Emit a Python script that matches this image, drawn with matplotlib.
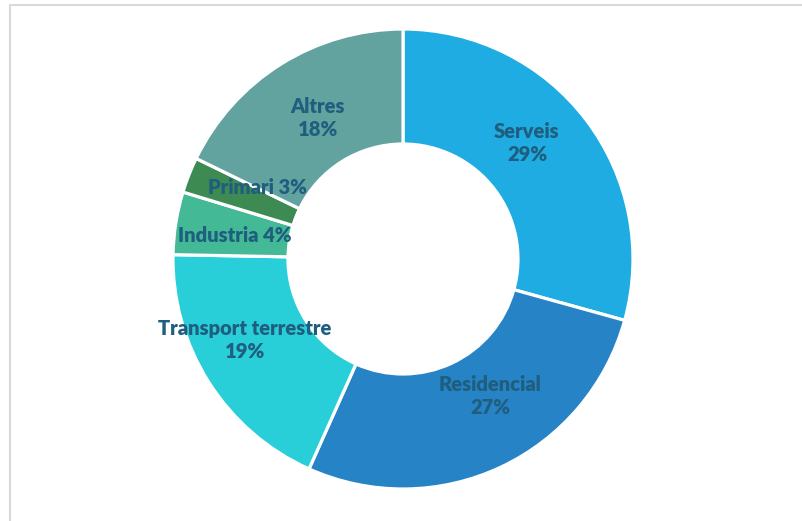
import numpy as np
import matplotlib
matplotlib.use('Agg')
import matplotlib.pyplot as plt
from matplotlib.patches import Rectangle

labels = ['Serveis', 'Residencial', 'Transport terrestre', 'Industria', 'Primari', 'Altres']
# wedge sizes as drawn in the picture
values = [29.3, 27.4, 18.6, 4.4, 2.5, 17.8]
label_text = ['Serveis\n29%', 'Residencial\n27%', 'Transport terrestre\n19%',
              'Industria 4%', 'Primari 3%', 'Altres\n18%']
colors = ['#1EACE3', '#2683C6', '#28CED8', '#43B995', '#3D8A52', '#62A39F']

# label centres (in radius units), placed by hand like in the original
label_pos = [(0.539, 0.504), (0.378, -0.596), (-0.687, -0.352),
             (-0.730, 0.100), (-0.635, 0.309), (-0.370, 0.613)]

W, H = 802, 521
fig = plt.figure(figsize=(W / 100, H / 100), dpi=100)

# light grey frame (right/bottom edges fall outside the image)
fig.add_artist(Rectangle((10 / W, -0.05), 1.1, (H - 5) / H + 0.05,
                         transform=fig.transFigure, fill=False,
                         edgecolor='#D9D9D9', linewidth=1.5))

cx, cy, R = 403, 259, 230
ax = fig.add_axes([(cx - R) / W, (H - cy - R) / H, 2 * R / W, 2 * R / H])
wedges, _ = ax.pie(values, colors=colors, startangle=90, counterclock=False,
                   radius=1.0,
                   wedgeprops=dict(width=0.5, edgecolor='white', linewidth=2.3))

for (x, y), txt in zip(label_pos, label_text):
    ax.text(x, y, txt, ha='center', va='center',
            fontsize=14.5, fontweight='heavy', color='#1F5E7E',
            family=['Lato', 'DejaVu Sans'], linespacing=1.25)

ax.set_xlim(-1, 1)
ax.set_ylim(-1, 1)
ax.set_aspect('equal')
ax.axis('off')

fig.savefig('out.png', dpi=100)
